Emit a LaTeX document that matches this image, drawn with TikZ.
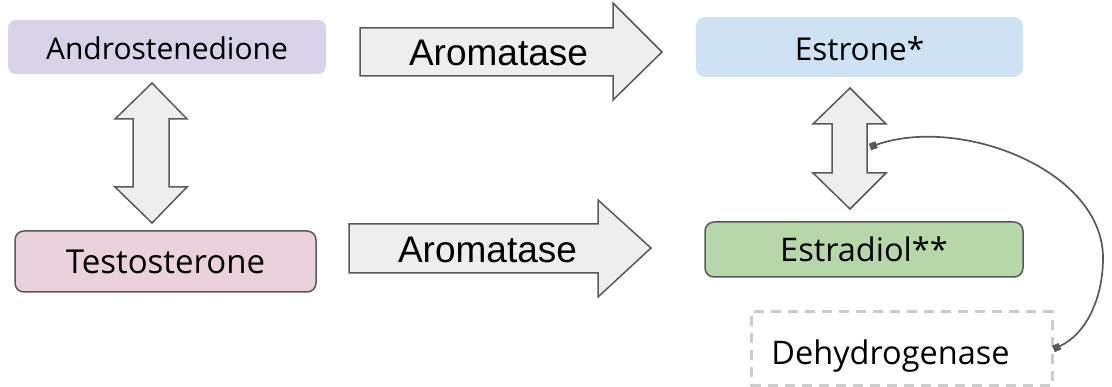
\documentclass[tikz,border=0pt]{standalone}
\usepackage{fontspec}
\setmainfont{Open Sans}
\newfontfamily\arialfont{Liberation Sans}
\usetikzlibrary{arrows.meta}
\definecolor{lav}{HTML}{D9D2E9}
\definecolor{pinkish}{HTML}{EAD1DC}
\definecolor{lblue}{HTML}{CFE2F3}
\definecolor{lgreen}{HTML}{B6D7A8}
\definecolor{edge}{HTML}{595959}
\definecolor{arrfill}{HTML}{EEEEEE}
\definecolor{dashgray}{HTML}{CCCCCC}
\begin{document}
\begin{tikzpicture}[x=1pt,y=-1pt,
  box/.style={rectangle, inner sep=0pt, text depth=0pt, anchor=center},
  bordered/.style={draw=edge, line width=1.5pt},
  blockarrow/.style={draw=edge, fill=arrfill, line width=1.5pt, line join=miter},
  arrtext/.style={font=\arialfont\fontsize{37}{40}\selectfont, anchor=base, inner sep=0pt},
  conn/.style={draw=edge, line width=1.7pt, {Square[length=7pt,width=7pt]}-{Square[length=7pt,width=7pt]}}
]
\useasboundingbox (0,0) rectangle (1112,387);

% boxes
\node[box, fill=lav, rounded corners=8pt, minimum width=318pt, minimum height=54pt, text height=26pt,
  font=\fontsize{30}{36}\selectfont] (andro) at (167,47) {Androstenedione};
\node[box, bordered, fill=pinkish, rounded corners=9pt, minimum width=301pt, minimum height=61pt, text height=25pt,
  font=\fontsize{33}{38}\selectfont] (testo) at (165.5,261.5) {Testosterone};
\node[box, fill=lblue, rounded corners=9pt, minimum width=327pt, minimum height=60pt, text height=28pt,
  font=\fontsize{31.5}{36}\selectfont] (estrone) at (859.5,47) {Estrone*};
\node[box, bordered, fill=lgreen, rounded corners=9pt, minimum width=318pt, minimum height=55pt, text height=24.5pt,
  font=\fontsize{32.5}{36}\selectfont] (estradiol) at (864,249.5) {Estradiol**};
\node[box, draw=dashgray, line width=3pt, dash pattern=on 10pt off 7pt, minimum width=301pt, minimum height=74pt,
  text height=32pt, font=\fontsize{32.5}{36}\selectfont] (dehyd) at (901.5,349) {Dehydrogenase\hspace*{22pt}};

% block arrows (aromatase)
\draw[blockarrow] (360,28) -- (613,28) -- (613,3) -- (662,52) -- (613,100) -- (613,76) -- (360,76) -- cycle;
\node[arrtext] (arom1) at (498.5,65.7) {Aromatase};
\draw[blockarrow] (349,224) -- (598,224) -- (598,200) -- (651,248) -- (598,297) -- (598,273) -- (349,273) -- cycle;
\node[arrtext] (arom2) at (487.5,262.7) {Aromatase};

% double arrows
\draw[blockarrow] (152,83) -- (187,119) -- (169,119) -- (169,187) -- (187,187) -- (152,223)
  -- (115,187) -- (133,187) -- (133,119) -- (115,119) -- cycle;
\draw[blockarrow] (850,88) -- (886,124) -- (867,124) -- (867,173) -- (886,173) -- (850,209)
  -- (813,173) -- (832,173) -- (832,124) -- (813,124) -- cycle;

% connector
\coordinate (target) at (870,147);
\draw[conn] (dehyd.east) .. controls (1085,335) and (1103,300) .. (1103,258)
  .. controls (1103,170) and (960,115) .. (target);
\end{tikzpicture}
\end{document}
